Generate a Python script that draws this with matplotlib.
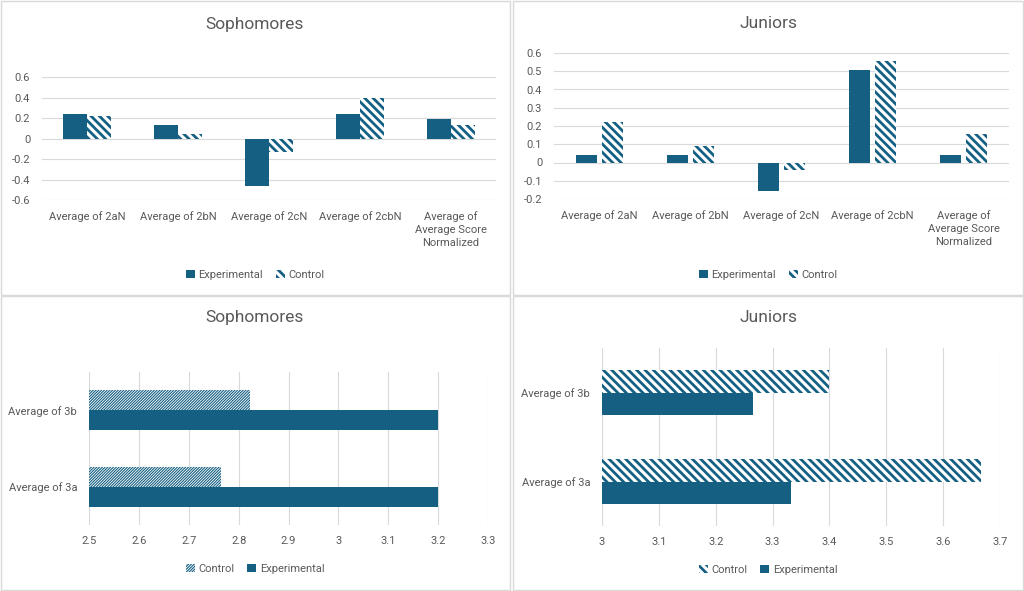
import matplotlib
matplotlib.use("Agg")
import matplotlib.pyplot as plt
from matplotlib.patches import Rectangle
from matplotlib.ticker import FuncFormatter
import numpy as np

# データ
cats_top = ["Average of 2aN", "Average of 2bN", "Average of 2cN", "Average of 2cbN",
            "Average of\nAverage Score\nNormalized"]
soph_exp = [0.236, 0.134, -0.462, 0.236, 0.187]
soph_ctrl = [0.220, 0.043, -0.134, 0.397, 0.131]
jun_exp = [0.043, 0.043, -0.156, 0.509, 0.043]
jun_ctrl = [0.223, 0.089, -0.043, 0.554, 0.156]

cats_bottom = ["Average of 3a", "Average of 3b"]
soph3_exp = [3.2, 3.2]
soph3_ctrl = [2.764, 2.823]
jun3_exp = [3.333, 3.266]
jun3_ctrl = [3.667, 3.400]

BLUE = "#156082"
GRAY = "#595959"
GRID = "#d9d9d9"
WIDE = "\\\\\\\\"   # 太い斜線
FINE = "/" * 12      # 細かい斜線

plt.rcParams["font.family"] = ["Roboto", "DejaVu Sans"]
plt.rcParams["axes.unicode_minus"] = False

W, H = 1024, 591
fig = plt.figure(figsize=(W / 100, H / 100), dpi=100)


def px(x0, y0, x1, y1):
    # ピクセル座標 -> figure座標
    return [x0 / W, 1 - y1 / H, (x1 - x0) / W, (y1 - y0) / H]


# パネル枠
for (x0, y0, x1, y1) in [(1, 1, 510, 295), (513, 1, 1023, 295),
                         (1, 296, 510, 590), (513, 296, 1023, 590)]:
    fig.patches.append(Rectangle((x0 / W, 1 - y1 / H), (x1 - x0) / W, (y1 - y0) / H,
                                 transform=fig.transFigure, facecolor="white",
                                 edgecolor=GRID, linewidth=1.0, zorder=-10))

fmt = FuncFormatter(lambda v, p: f"{round(v, 2):g}")


def hatched(bars, lw):
    for b in bars:
        try:
            b.set_hatch_linewidth(lw)
        except AttributeError:
            pass


def style(ax):
    for s in ax.spines.values():
        s.set_visible(False)
    ax.tick_params(length=0, colors=GRAY, labelsize=8)
    ax.set_axisbelow(True)


def add_legend(ax, tx, leg_y):
    ax.legend(loc="center", bbox_to_anchor=(tx / W, 1 - leg_y / H),
              bbox_transform=fig.transFigure, ncol=2, frameon=False,
              fontsize=8, handlelength=0.8, handleheight=0.8,
              handletextpad=0.3, columnspacing=1.2, labelcolor=GRAY)


def column_chart(rect, exp, ctrl, width, offset, ylim, yticks, title, tx):
    ax = fig.add_axes(rect)
    x = np.arange(len(cats_top))
    ax.bar(x - offset, exp, width, color=BLUE, label="Experimental")
    plt.rcParams["hatch.linewidth"] = 2.0
    b = ax.bar(x + offset, ctrl, width, facecolor="white", edgecolor=BLUE,
               linewidth=0, hatch=WIDE, label="Control")
    hatched(b, 2.0)
    ax.set_xlim(-0.5, len(cats_top) - 0.5)
    ax.set_ylim(*ylim)
    ax.set_yticks(yticks)
    ax.yaxis.set_major_formatter(fmt)
    ax.grid(axis="y", color=GRID, linewidth=0.8)
    ax.set_xticks(x)
    ax.set_xticklabels(cats_top, linespacing=1.35)
    ax.tick_params(axis="x", pad=8)
    ax.tick_params(axis="y", pad=8.5)
    style(ax)
    fig.text(tx / W, 1 - 24 / H, title, ha="center", va="center",
             fontsize=12.5, color=GRAY)
    add_legend(ax, tx, 275)
    return ax


def bar_chart(rect, exp, ctrl, height, xlim, xticks, hatch, hlw, title, tx, leg_y):
    ax = fig.add_axes(rect)
    y = np.arange(len(cats_bottom))
    plt.rcParams["hatch.linewidth"] = hlw
    b = ax.barh(y + height / 2, np.array(ctrl) - xlim[0], height, left=xlim[0],
                facecolor="white", edgecolor=BLUE, linewidth=0, hatch=hatch,
                label="Control")
    hatched(b, hlw)
    ax.barh(y - height / 2, np.array(exp) - xlim[0], height, left=xlim[0],
            color=BLUE, label="Experimental")
    ax.set_xlim(*xlim)
    ax.set_ylim(-0.5, 1.5)
    ax.set_xticks(xticks)
    ax.xaxis.set_major_formatter(fmt)
    ax.set_yticks(y)
    ax.set_yticklabels(cats_bottom)
    ax.grid(axis="x", color=GRID, linewidth=0.8)
    ax.tick_params(axis="x", pad=8)
    ax.tick_params(axis="y", pad=8.5)
    style(ax)
    fig.text(tx / W, 1 - 318 / H, title, ha="center", va="center",
             fontsize=12.5, color=GRAY)
    add_legend(ax, tx, leg_y)
    return ax


column_chart(px(42, 77, 496, 200), soph_exp, soph_ctrl, 0.264, 0.132,
             (-0.6, 0.6), np.arange(-0.6, 0.61, 0.2), "Sophomores", 255)
column_chart(px(554, 53, 1009, 199), jun_exp, jun_ctrl, 0.228, 0.144,
             (-0.2, 0.6), np.arange(-0.2, 0.61, 0.1), "Juniors", 768)

bar_chart(px(89, 372, 488, 525), soph3_exp, soph3_ctrl, 0.262, (2.5, 3.3),
          np.arange(2.5, 3.31, 0.1), FINE, 0.8, "Sophomores", 255, 569)
bar_chart(px(602, 348, 1000, 526), jun3_exp, jun3_ctrl, 0.258, (3.0, 3.7),
          np.arange(3.0, 3.71, 0.1), WIDE, 2.0, "Juniors", 768, 570)

fig.savefig("out.png", dpi=100)
